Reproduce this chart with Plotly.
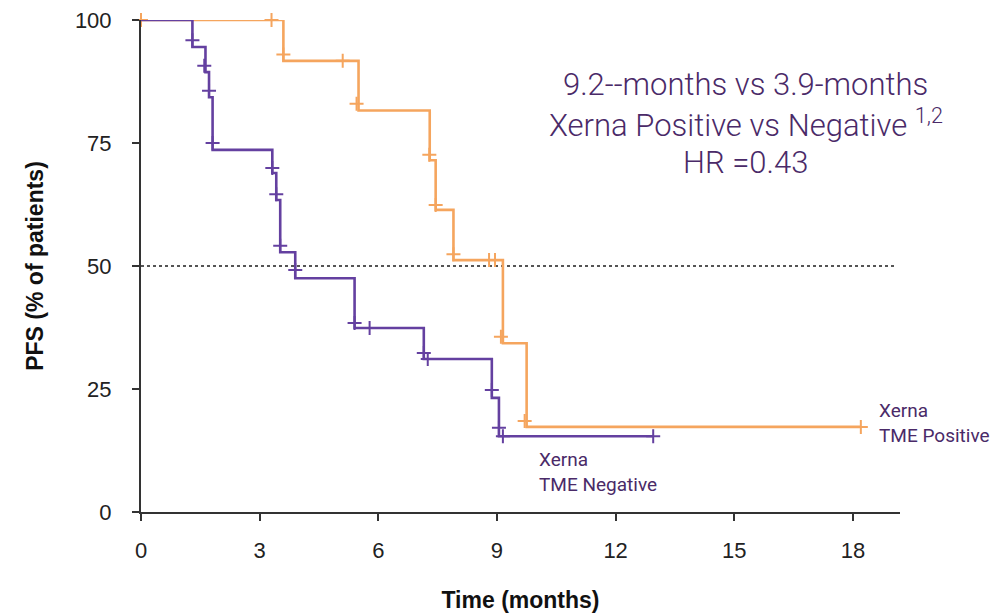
import plotly.graph_objects as go

# ---- data ----
pos_times = [0, 3.6, 5.5, 7.3, 7.45, 7.9, 9.15, 9.75, 18.2]
pos_surv = [100, 91.7, 81.6, 71.5, 61.4, 51.2, 34.3, 17.3, 17.3]
pos_cens_t = [0, 3.3, 3.6, 5.1, 5.45, 7.29, 7.45, 7.9, 8.8, 8.95, 9.1, 9.7, 18.2]
pos_cens_s = [100, 100, 93, 91.7, 83, 72.6, 62.4, 52.4, 51.2, 51.2, 35.6, 18.5, 17.3]

neg_times = [0, 1.3, 1.63, 1.72, 1.81, 3.32, 3.42, 3.52, 3.9, 5.4, 7.15, 8.87, 9.05, 12.95]
neg_surv = [100, 94.5, 89.4, 84.3, 73.6, 68.9, 63.4, 52.8, 47.5, 37.4, 31.1, 23.2, 15.4, 15.4]
neg_cens_t = [1.3, 1.6, 1.72, 1.81, 3.32, 3.42, 3.52, 3.9, 5.4, 5.78, 7.15, 7.25, 8.87, 9.05, 9.15, 12.95]
neg_cens_s = [95.9, 90.7, 85.6, 75, 69.9, 64.6, 54.1, 49.2, 38.4, 37.4, 32.3, 31.1, 24.8, 17.1, 15.4, 15.4]

median_line = 50
x_ticks = [0, 3, 6, 9, 12, 15, 18]
y_ticks = [0, 25, 50, 75, 100]

ORANGE = "#F5A55E"
PURPLE = "#6440A0"
TEXT = "#4A2A68"

fig = go.Figure()

fig.add_shape(type="line", xref="x", yref="y", x0=0, x1=19.1, y0=median_line, y1=median_line,
              line=dict(color="#555555", width=2, dash="dot"), layer="below")

for t, s, ct, cs, col in [(pos_times, pos_surv, pos_cens_t, pos_cens_s, ORANGE),
                          (neg_times, neg_surv, neg_cens_t, neg_cens_s, PURPLE)]:
    fig.add_trace(go.Scatter(x=t, y=s, mode="lines", line=dict(color=col, width=2.6, shape="hv"),
                             cliponaxis=False, showlegend=False, hoverinfo="skip"))
    fig.add_trace(go.Scatter(x=ct, y=cs, mode="markers", cliponaxis=False, showlegend=False,
                             marker=dict(symbol="cross-thin", size=10,
                                         line=dict(color=col, width=2))))

main_font = dict(family="Roboto", size=31, color=TEXT, weight=300)
for txt, yy in [("9.2--months vs 3.9-months", 0.868),
                ("Xerna Positive vs Negative <sup>1,2</sup>", 0.79),
                ("HR =0.43", 0.711)]:
    fig.add_annotation(x=0.797, y=yy, xref="paper", yref="paper", showarrow=False,
                       xanchor="center", yanchor="middle", text=txt, font=main_font)

lab_font = dict(family="Roboto", size=19, color=TEXT)
fig.add_annotation(x=18.6, y=18.0, xref="x", yref="y", showarrow=False, xanchor="left",
                   yanchor="middle", align="left", text="Xerna<br>TME Positive", font=lab_font)
fig.add_annotation(x=10.0, y=8.1, xref="x", yref="y", showarrow=False, xanchor="left",
                   yanchor="middle", align="left", text="Xerna<br>TME Negative", font=lab_font)

axis_font = dict(family="Liberation Sans, Arial", size=22, color="#222222")
title_font = dict(family="Liberation Sans, Arial", size=23, color="#111111")
fig.update_xaxes(range=[0, 19.19], tickvals=x_ticks, showgrid=False, zeroline=False,
                 showline=True, linecolor="#333333", linewidth=2, automargin=False,
                 ticks="outside", ticklen=7, tickwidth=2, tickcolor="#333333",
                 tickfont=axis_font, ticklabelstandoff=11, ticklabeloverflow="allow",
                 title=dict(text="<b>Time (months)</b>", font=title_font, standoff=29))
fig.update_yaxes(range=[0, 100], tickvals=y_ticks, showgrid=False, zeroline=False,
                 showline=True, linecolor="#333333", linewidth=2, automargin=False,
                 ticks="outside", ticklen=7, tickwidth=2, tickcolor="#333333",
                 tickfont=axis_font, ticklabelstandoff=16, ticklabeloverflow="allow",
                 title=dict(text="<b>PFS (% of patients)</b>", font=title_font, standoff=25))

fig.update_layout(width=1003, height=616, margin=dict(l=133, r=111, t=12, b=112),
                  plot_bgcolor="white", paper_bgcolor="white")

fig.write_html("out.html")
